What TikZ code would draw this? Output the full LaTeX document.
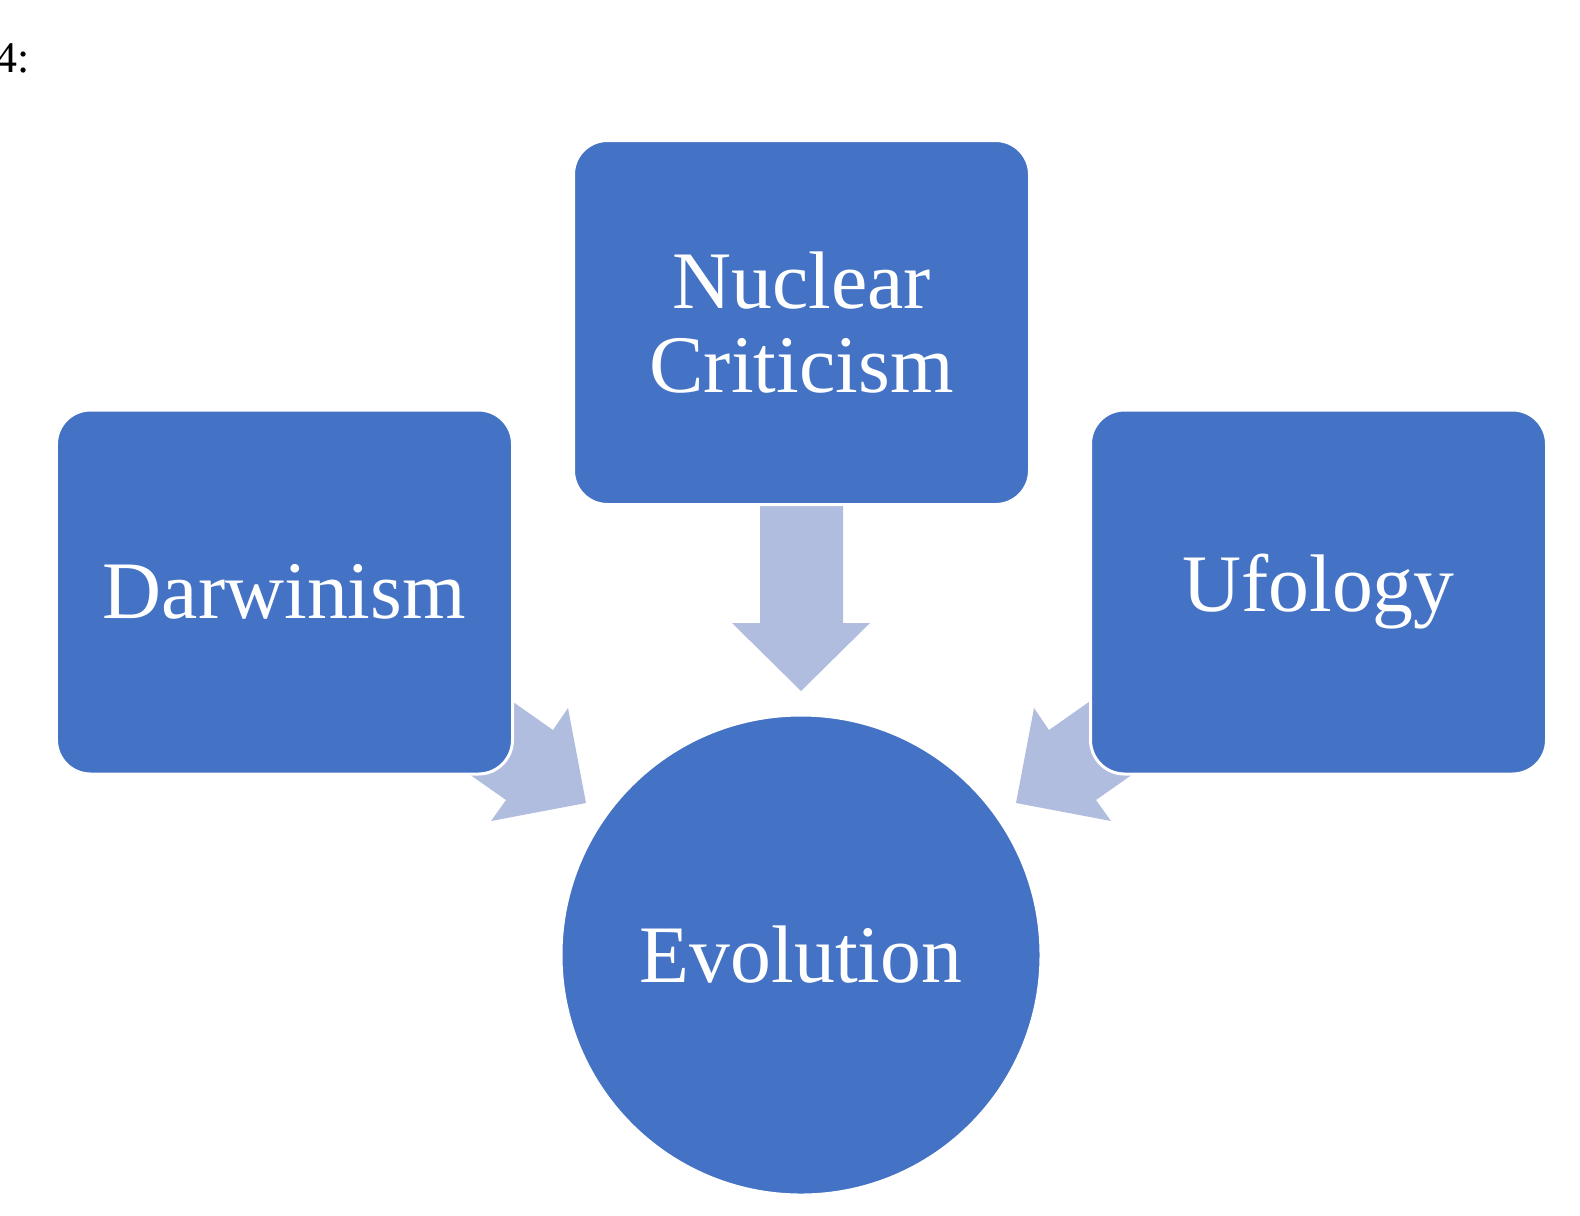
\documentclass[tikz,border=0pt]{standalone}
\usepackage{fontspec}
\setmainfont{Liberation Serif}
\definecolor{boxblue}{HTML}{4472C4}
\definecolor{arrowblue}{HTML}{B0BDDF}
\begin{document}
\begin{tikzpicture}[x=1bp,y=-1bp,
  box/.style={fill=boxblue,draw=white,line width=3bp,rounded corners=34bp,minimum width=456bp,minimum height=364bp,text=white,font=\fontsize{82}{84}\selectfont,align=center,inner sep=0pt},
  arr/.style={fill=arrowblue,draw=none}]
\useasboundingbox (0,0) rectangle (1580,1215);
\node[anchor=west,font=\fontsize{44}{44}\selectfont] (lbl) at (-8,58) {4:};
% arrows
\fill[arrowblue] (760,500) -- (843,500) -- (843,623) -- (870,623) -- (801,691) -- (732,623) -- (760,623) -- cycle;
\fill[arrowblue] (442,652) -- (553,730) -- (568,708) -- (586,803) -- (491,821) -- (506,800) -- (402,727) -- cycle;
\fill[arrowblue] (1160,652) -- (1049,730) -- (1034,708) -- (1016,803) -- (1111,821) -- (1096,800) -- (1200,727) -- cycle;
\node[box] (nuc) at (801.5,322.5) {Nuclear\\Criticism};
\node[box] (dar) at (284.5,592) {Darwinism};
\node[box] (ufo) at (1318.5,592) {Ufology};
\node[circle,fill=boxblue,draw=white,line width=3bp,minimum size=480bp,text=white,font=\fontsize{82}{84}\selectfont,inner sep=0pt] (evo) at (801,955) {Evolution};
\end{tikzpicture}
\end{document}
